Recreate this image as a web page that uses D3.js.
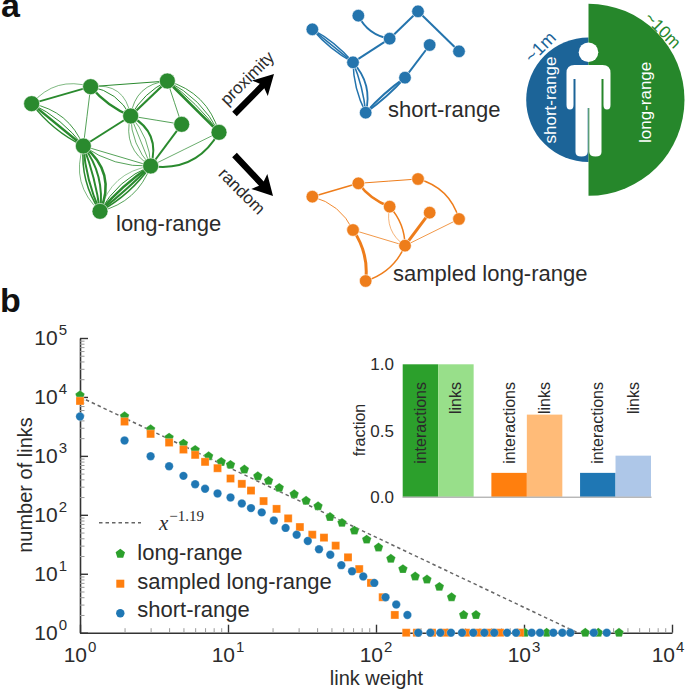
<!DOCTYPE html>
<html><head><meta charset="utf-8">
<script src="https://cdn.jsdelivr.net/npm/d3@7"></script>
<style>
html,body{margin:0;padding:0;background:#fff}
svg{display:block}
text{font-family:"Liberation Sans",Arimo,sans-serif;fill:#2b2b2b}
</style></head><body><svg id="c" width="686" height="691"></svg>
<script>
// ---------- panel b data ----------
const longX=[1,2,3,4,5,6,7.4,9,10.4,12.9,15.9,18.8,22.2,28,33.7,40.6,48.9,58.9,71.5,86.5,104,126,152,184,221,268,324,391,474,1016,1423,2594,3177,4385];
const longY=[10670,4700,2830,2045,1618,1264,987,791,704,587,452,377,287,224,173,140,92,73,54,38,28,18,12,9,8,6,4,2,2,1,1,1,1,1];
const sampX=[1,2,3,4,5,6,7,8.5,10.4,12.4,14.3,17.4,21.3,25.5,30.6,37.1,44.5,53.4,64.7,77,92.5,111,134,160,189,239,293,405,489,589,689,940];
const sampY=[8550,3820,2360,1683,1280,1040,791,618,413,335,258,171,126,87,62,46,41,30,19,12,7,4,2,1,1,1,1,1,1,1,1,1];
const shortX=[1,2,3,4,5,6,7,8.5,10.4,12.4,14.3,16.9,20.4,24.5,29.1,34.6,41.2,49.1,58.3,68.9,82,97.4,116,137,163,193,233,272,321,381,454,540,630,768,883,1127,1282,1578,1815,2055,2958,3622];
const shortY=[4645,1820,987,668,458,331,276,230,197,156,130,110,80,60,46,36,26,21,14,11,9,7,4,3,2,1,1,1,1,1,1,1,1,1,1,1,1,1,1,1,1,1];
const fitExponent=-1.19, fitAmplitude=10000, fitEnd=2300;
const legendNames=["long-range","sampled long-range","short-range"];
// ---------- inset data ----------
const insetGroups=["long-range","sampled long-range","short-range"];
const insetKinds=["interactions","links"];
const insetInteractions=[1,0.18,0.18];
const insetLinks=[1,0.62,0.31];
const insetTicks=["0.0","0.5","1.0"];
// ---------- panel a networks: node layout units, edges [from,to,[bend,width],...] ----------
const greenNodes=[[95,311],[272,260],[502,243],[392,348],[545,373],[657,397],[250,438],[452,498],[300,634]];
const blueNodes=[[97,88],[235,47],[414,34],[329,116],[449,135],[537,154],[219,187],[375,233],[257,338]];
const orangeNodes=[[97,590],[235,550],[414,537],[329,620],[449,638],[537,657],[219,690],[375,737],[257,843]];
const greenEdges=[
 [0,1,[0,1.8],[-10,.6]],[1,2,[0,1]],[1,6,[0,.8]],[2,4,[0,.8]],[3,4,[0,.8]],[3,6,[0,2]],[4,7,[0,2]],
 [0,6,[-9,.9],[-4,1],[0,2.4],[4,1.4]],[1,3,[-12,.6],[-6,1],[3,2.4]],[2,3,[10,.7],[4,1],[0,2.2]],
 [2,5,[-10,.9],[-6,.9],[-3,.9],[0,2.6]],[3,7,[10,.7],[5,.7],[0,.7],[-5,.7],[-11,2]],
 [5,7,[0,.7],[-13,2]],[6,7,[0,.8],[6,.8]],
 [6,8,[11,.6],[6,1.5],[3,2],[-2,2],[-7,2],[-13,2.5]],
 [7,8,[11,.5],[6,1],[2.5,2.5],[-1,2],[-4,1.5],[-9,.8]]];
const blueEdges=[
 [0,6,[-2.5,1.5],[0,1.5],[2.5,1.5]],[1,3,[5,2]],[2,3,[0,2]],[3,6,[0,2]],[2,5,[0,2]],[4,7,[0,2]],
 [6,8,[3,1.5],[-2,1.5],[-7,1.8]],[7,8,[1.5,2],[-1.5,2]]];
const orangeEdges=[
 [0,1,[0,1.5]],[1,2,[0,1]],[1,3,[3,2.5]],[2,5,[-8,1.5]],[0,6,[-6,.9]],[3,7,[7,.6],[-4,1.5]],
 [4,7,[0,3]],[5,7,[0,.8]],[6,7,[0,.8]],[6,8,[-5,3]],[7,8,[-6,1.5]]];
const networkLabels=["long-range","short-range","sampled long-range"];

const svg=d3.select("#c");
const C={g:"#2ca02c",o:"#ff7f0e",b:"#1f77b4"};

// ---------- panel a ----------
function drawNet(nodes,edges,xr,yr,color,r){
  const x=d3.scaleLinear().domain([0,3]).range([xr,xr+1]);
  const y=d3.scaleLinear().domain([0,3]).range([yr,yr+1]);
  const g=svg.append("g");
  edges.forEach(e=>{
    const a=nodes[e[0]],b=nodes[e[1]];
    const x1=x(a[0]),y1=y(a[1]),x2=x(b[0]),y2=y(b[1]);
    const dx=x2-x1,dy=y2-y1,L=Math.hypot(dx,dy);
    e.slice(2).forEach(([bend,w])=>{
      const p=d3.path();
      p.moveTo(x1,y1);
      p.quadraticCurveTo((x1+x2)/2-dy/L*bend*2,(y1+y2)/2+dx/L*bend*2,x2,y2);
      g.append("path").attr("d",p.toString()).attr("fill","none").attr("stroke",color).attr("stroke-width",w);
    });
  });
  g.selectAll("circle").data(nodes).join("circle").attr("cx",d=>x(d[0])).attr("cy",d=>y(d[1])).attr("r",r)
   .attr("fill",color).attr("stroke","#fff").attr("stroke-width",.6);
}
drawNet(greenNodes,greenEdges,0,0,"#2a8a2e",8);
drawNet(blueNodes,blueEdges,280,0,"#2474ad",6.3);
drawNet(orangeNodes,orangeEdges,280,0,"#ee7d1b",6.3);

function lab(t,x,y,size,opts={}){
  const s=svg.append("text").attr("x",x).attr("y",y).attr("font-size",size).text(t);
  if(opts.rot!==undefined) s.attr("transform",`rotate(${opts.rot} ${x} ${y})`);
  if(opts.a) s.attr("text-anchor",opts.a);
  if(opts.fill) s.style("fill",opts.fill);
  return s;
}
svg.append("text").attr("x",1).attr("y",17).attr("font-size",34).attr("font-weight",700).style("fill","#111").text("a");
svg.append("text").attr("x",0).attr("y",312).attr("font-size",34).attr("font-weight",700).style("fill","#111").text("b");
lab(networkLabels[0],116,231,22);
lab(networkLabels[1],388,117,22);
lab(networkLabels[2],393,281,22);

function arrow(x1,y1,x2,y2){
  const ang=Math.atan2(y2-y1,x2-x1),L=Math.hypot(x2-x1,y2-y1);
  const g=svg.append("g").attr("transform",`translate(${x1},${y1}) rotate(${ang*180/Math.PI})`);
  g.append("path").attr("fill","#000").attr("d",`M0,-3.2L${L-17},-3.2L${L-20},-11L${L},0L${L-20},11L${L-17},3.2L0,3.2Z`);
}
arrow(234.5,114,274,74);
arrow(234.5,155,273,196);
lab("proximity",247,78,17,{rot:-45,a:"middle"}).attr("dy",".35em");
lab("random",242,191,17,{rot:45,a:"middle"}).attr("dy",".35em");

// range diagram
const cx=588.5,cy=99.8;
const arc=d3.arc();
svg.append("path").attr("transform",`translate(${cx},${cy})`).attr("fill","#1c6498")
  .attr("d",arc({innerRadius:0,outerRadius:62.3,startAngle:Math.PI,endAngle:2*Math.PI}));
svg.append("path").attr("transform",`translate(${cx},${cy})`).attr("fill","#26872b")
  .attr("d",arc({innerRadius:0,outerRadius:96,startAngle:0,endAngle:Math.PI}));
const person=svg.append("g").attr("transform",`translate(${cx},0)`);
person.append("circle").attr("cy",52.3).attr("r",9.8).attr("fill","#fff");
person.append("path").attr("fill","#fff").attr("d",
 "M-14,65 L14,65 Q22,65 22,73 L22,105 Q22,109.5 18.5,109.5 Q15,109.5 15,105 L15,79 L13,79 L13,152 Q13,156.5 7,156.5 Q1,156.5 .8,152 L.8,108 L-.8,108 L-.8,152 Q-1,156.5 -7,156.5 Q-13,156.5 -13,152 L-13,79 L-15,79 L-15,105 Q-15,109.5 -18.5,109.5 Q-22,109.5 -22,105 L-22,73 Q-22,65 -14,65Z");
lab("short-range",556,143.5,17,{rot:-90,fill:"#fff"});
lab("long-range",651,143,17,{rot:-90,fill:"#fff"});
lab("~1m",540,47,18,{rot:-45,a:"middle",fill:"#1c6498"}).attr("dy",".35em");
lab("~10m",663,30,17,{rot:45,a:"middle",fill:"#26872b"}).attr("dy",".35em");

// ---------- panel b ----------
const x=d3.scaleLog().domain([1,1e4]).range([80,672]);
const y=d3.scaleLog().domain([1,1e5]).range([632.7,338]);
const majors=[0,1,2,3,4], ymajors=[0,1,2,3,4,5];
const minor=n=>d3.range(n).flatMap(i=>d3.range(2,10).map(k=>k*10**i));

const gx=svg.append("g").attr("transform",`translate(0,${y(1)})`);
const gy=svg.append("g").attr("transform",`translate(${x(1)},0)`);
gx.call(d3.axisBottom(x).tickValues(minor(4)).tickSizeInner(-4.5).tickSizeOuter(0).tickFormat(""));
gy.call(d3.axisLeft(y).tickValues(minor(5)).tickSizeInner(-4.5).tickSizeOuter(0).tickFormat(""));
[gx,gy].forEach(g=>{g.selectAll(".tick line").attr("stroke","#999").attr("stroke-width",1);g.select(".domain").attr("stroke","#333").attr("stroke-width",1.6);});
const gxM=svg.append("g").attr("transform",`translate(0,${y(1)})`);
const gyM=svg.append("g").attr("transform",`translate(${x(1)},0)`);
gxM.call(d3.axisBottom(x).tickValues(majors.map(d=>10**d)).tickSizeInner(-8).tickSizeOuter(0).tickFormat(""));
gyM.call(d3.axisLeft(y).tickValues(ymajors.map(d=>10**d)).tickSizeInner(-8).tickSizeOuter(0).tickFormat(""));
[gxM,gyM].forEach(g=>{g.selectAll(".tick line").attr("stroke","#333").attr("stroke-width",1.4);g.select(".domain").remove();});
function powerLabel(px,py,e,anchor){
  const t=svg.append("text").attr("x",px).attr("y",py).attr("text-anchor",anchor).attr("font-size",21);
  t.append("tspan").text("10");
  t.append("tspan").attr("font-size",15).attr("dy",-10).attr("dx",1).text(e);
}
majors.forEach(e=>powerLabel(Math.min(x(10**e),668),661.7,e,"middle"));
ymajors.forEach(e=>powerLabel(67,y(10**e)+7,e,"end"));
lab("link weight",376.5,685,20,{a:"middle"});
lab("number of links",32,485,20,{rot:-90,a:"middle"});

// fit line
const fitLine=d3.line().x(d=>x(d)).y(d=>y(fitAmplitude*d**fitExponent));
svg.append("path").attr("d",fitLine([1,fitEnd])).attr("fill","none").attr("stroke","#666").attr("stroke-width",1.5).attr("stroke-dasharray","3.5 3");

const pent={draw(ctx,size){const r=Math.sqrt(size/2.38);for(let i=0;i<5;i++){const a=-Math.PI/2+i*2*Math.PI/5;const px=r*Math.cos(a),py=r*Math.sin(a);i?ctx.lineTo(px,py):ctx.moveTo(px,py);}ctx.closePath();}};
const shapes=[d3.symbol().type(pent).size(58),d3.symbol().type(d3.symbolSquare).size(64),d3.symbol().type(d3.symbolCircle).size(56)];
const cols=[C.g,C.o,C.b];
[[longX,longY],[sampX,sampY],[shortX,shortY]].forEach(([xs,ys],i)=>{
  svg.append("g").selectAll("path").data(xs.map((d,j)=>[d,ys[j]])).join("path")
   .attr("transform",d=>`translate(${x(d[0])},${y(d[1])})`).attr("d",shapes[i]()).attr("fill",cols[i])
   .attr("stroke","#fff").attr("stroke-opacity",.5).attr("stroke-width",.5);
});
// legend
const legY=[553.7,583.7,613.3],legB=[560,589,617];
legendNames.forEach((n,i)=>{
  svg.append("path").attr("transform",`translate(120.3,${legY[i]})`).attr("d",shapes[i]()).attr("fill",cols[i]);
  lab(n,137.3,legB[i],22);
});
svg.append("line").attr("x1",99).attr("x2",141).attr("y1",522.7).attr("y2",522.7).attr("stroke","#666").attr("stroke-width",1.5).attr("stroke-dasharray","3.5 3");
const mt=svg.append("text").attr("x",159).attr("y",530).style("font-family","Liberation Serif,serif").attr("font-size",21);
mt.append("tspan").attr("font-style","italic").text("x");
mt.append("tspan").attr("font-size",15).attr("dy",-9).attr("dx",1).text("\u22121.19");

// ---------- inset ----------
const x0=d3.scaleBand().domain(insetGroups).range([402.7,651]).paddingInner(.2);
const x1=d3.scaleBand().domain(insetKinds).range([0,x0.bandwidth()]);
const yi=d3.scaleLinear().domain([0,1]).range([496.7,364.3]);
const barCols=[["#2ca02c","#98df8a"],["#ff7f0e","#ffbb78"],["#1f77b4","#aec7e8"]];
insetGroups.forEach((gr,i)=>{
  [insetInteractions[i],insetLinks[i]].forEach((v,k)=>{
    svg.append("rect").attr("x",x0(gr)+x1(insetKinds[k])).attr("width",x1.bandwidth()).attr("y",yi(v)).attr("height",yi(0)-yi(v)).attr("fill",barCols[i][k]);
    const tx=x0(gr)+x1(insetKinds[k])+x1.bandwidth()/2+5.5;
    lab(insetKinds[k],tx,382,16,{rot:-90,a:"end"});
  });
});
svg.append("g").attr("transform",`translate(0,${yi(0)})`)
  .call(d3.axisBottom(d3.scaleLinear().domain([402,651]).range([402,651])).tickValues([]).tickSizeOuter(0))
  .select(".domain").attr("stroke","#999").attr("stroke-width",1);
insetTicks.forEach(t=>lab(t,394,yi(+t)+6,17,{a:"end"}));
lab("fraction",365,430,16,{rot:-90,a:"middle"});
</script></body></html>
